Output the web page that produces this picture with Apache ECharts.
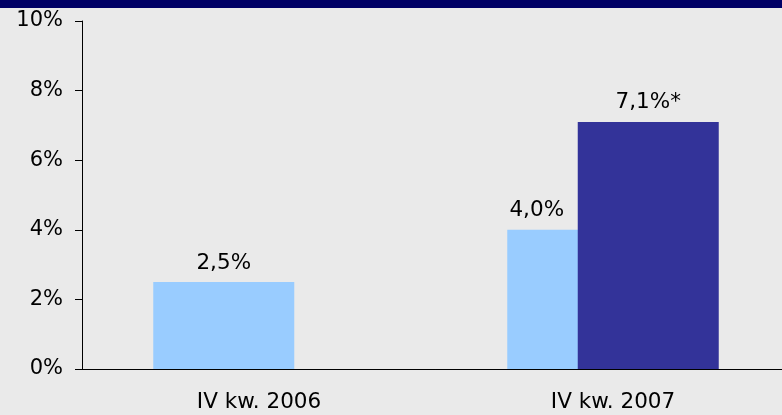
<!DOCTYPE html>
<html>
<head>
<meta charset="utf-8">
<script src="https://cdn.jsdelivr.net/npm/echarts@6/dist/echarts.min.js"></script>
<style>html,body{margin:0;padding:0;background:#eaeaea;overflow:hidden;width:782px;height:415px;}#c{width:790px;height:415px;}</style>
</head>
<body>
<div id="c"></div>
<script>
var categories = ['IV kw. 2006', 'IV kw. 2007'];
var seriesLight = [2.5, 4.0];
var seriesDark = [null, 7.1];
var darkNotes = ['', '*'];
var yTicks = [0, 2, 4, 6, 8, 10];

var FONT = 'DejaVu Sans';
function fmt(v) { return v.toFixed(1).replace('.', ',') + '%'; }

var chart = echarts.init(document.getElementById('c'), null, {renderer: 'canvas'});
chart.setOption({
  backgroundColor: '#eaeaea',
  animation: false,
  graphic: [{type: 'rect', left: 0, top: 0, shape: {width: 790, height: 8}, style: {fill: '#000066'}}],
  grid: {left: 82, right: 0, top: 21, bottom: 46, containLabel: false},
  xAxis: {
    type: 'category', data: categories,
    axisLine: {lineStyle: {color: '#000', width: 1}},
    axisTick: {length: 6, lineStyle: {color: '#000'}},
    axisLabel: {color: '#000', fontFamily: FONT, fontSize: 21.5, margin: 22}
  },
  yAxis: {
    type: 'value', min: yTicks[0], max: yTicks[yTicks.length - 1], interval: 2,
    splitLine: {show: false},
    axisLine: {show: true, lineStyle: {color: '#000', width: 1}},
    axisTick: {show: true, length: 7, lineStyle: {color: '#000'}},
    axisLabel: {color: '#000', fontFamily: FONT, fontSize: 21, margin: 19, formatter: function (v) { return v + '%'; }}
  },
  series: [{
    type: 'bar', data: seriesLight.map(function (v, i) {
      return {value: v, label: {offset: [i === 1 && seriesDark[i] != null ? -41 : 0, 0]}};
    }),
    barWidth: 141, barGap: '-50%',
    itemStyle: {color: '#99ccff'},
    label: {show: true, position: 'top', distance: 8, color: '#000', fontFamily: FONT, fontSize: 21.5,
      formatter: function (p) { return fmt(p.value); }}
  }, {
    type: 'bar', data: seriesDark,
    barWidth: 141, barGap: '-50%',
    itemStyle: {color: '#333399'},
    label: {show: true, position: 'top', distance: 8, color: '#000', fontFamily: FONT, fontSize: 21.5,
      formatter: function (p) { return p.value == null ? '' : fmt(p.value) + darkNotes[p.dataIndex]; }}
  }]
});
</script>
</body>
</html>
